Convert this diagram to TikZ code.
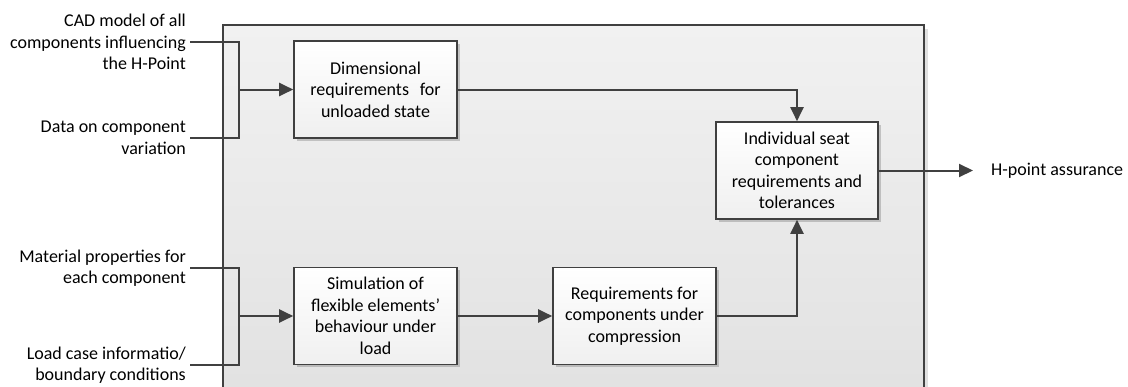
\documentclass[tikz,border=0pt]{standalone}
\usepackage{fontspec}
\setmainfont{Carlito}
\usetikzlibrary{arrows.meta,shadows}

\definecolor{lineclr}{HTML}{404040}
\definecolor{paneltop}{HTML}{F1F1F1}
\definecolor{panelbot}{HTML}{E1E1E1}

\tikzset{
  txt/.style={font=\fontsize{18}{21.5}\selectfont},
  link/.style={draw=lineclr, line width=2pt},
  arr/.style={link, -{Triangle[length=14pt,width=13pt]}},
  procbox/.style={txt, draw=lineclr, line width=1.6pt, top color=white, bottom color=white!94!black,
    minimum width=163pt, minimum height=97pt, align=center, inner sep=3pt,
    drop shadow={shadow xshift=2.5pt, shadow yshift=-2.5pt, fill=black, opacity=0.18}},
  input/.style={txt, anchor=east, align=right, inner xsep=4pt, inner ysep=0pt}
}

\begin{document}
\begin{tikzpicture}[x=1pt,y=-1pt]
\useasboundingbox (0,0) rectangle (1128,386);
\clip (0,0) rectangle (1128,386);

% enclosing process panel with its soft shadow
\fill[black, opacity=0.12] (227,29) rectangle (928,414);
\path[draw=lineclr, line width=1.4pt, top color=paneltop, bottom color=panelbot]
  (223,25) rectangle (924,410);

% process steps
\node[procbox] (dim) at (375.5,89.5) {Dimensional\\requirements\hspace{0.6em}for\\unloaded state};
\node[procbox] (sim) at (375.5,316) {Simulation of\\flexible elements'\\behaviour under\\load};
\node[procbox] (req) at (634.5,316) {Requirements for\\components under\\compression};
\node[procbox, minimum width=162pt] (ind) at (797,170.5) {Individual seat\\component\\requirements and\\tolerances};

% inputs
\node[input] (cad)  at (190,42)  {CAD model of all\\components influencing\\the H-Point};
\node[input] (var)  at (190,138) {Data on component\\variation};
\node[input] (mat)  at (190,268) {Material properties for\\each component};
\node[input] (load) at (190,365) {Load case informatio/\\boundary conditions};

% output
\node[txt, anchor=west, inner sep=0pt] (hp) at (991,170.5) {H-point assurance};

% junctions of the input brackets
\coordinate (jtop) at (239,89.5);
\coordinate (jbot) at (239,316);

\draw[link] (cad.east) -| (jtop);
\draw[link] (var.east) -| (jtop);
\draw[arr] (jtop) -- (dim.west);

\draw[link] (mat.east) -| (jbot);
\draw[link] (load.east) -| (jbot);
\draw[arr] (jbot) -- (sim.west);

\draw[arr] (sim.east) -- (req.west);
\draw[arr] (dim.east) -| (ind.north);
\draw[arr] (req.east) -| (ind.south);
\draw[arr, shorten >=18pt] (ind.east) -- (hp.west);
\end{tikzpicture}
\end{document}
